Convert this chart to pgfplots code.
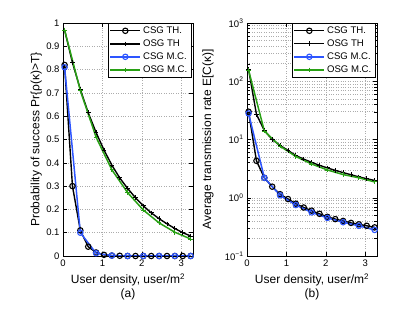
\documentclass[border=0pt]{standalone}
\usepackage{fontspec}
\setmainfont{Liberation Sans}
\usepackage{pgfplots}
\pgfplotsset{compat=1.18}
\definecolor{mblue}{RGB}{45,85,255}
\definecolor{mgreen}{RGB}{40,160,20}
\pgfplotsset{
  mstyle/.style={
    scale only axis, width=130pt, height=233pt,
    xmin=0, xmax=3.3, xtick={0,1,2,3},
    tick align=inside, tick style={black, thin},
    axis line style={black, thin},
    major grid style={dotted, gray!65, line width=0.45pt},
    minor grid style={dotted, gray!65, line width=0.45pt},
    /pgf/number format/assume math mode=true,
    tick label style={font=\fontsize{9.5}{10}\selectfont},
    label style={font=\fontsize{12}{14}\selectfont},
    xlabel style={align=center, at={(axis description cs:0.5,0)}, anchor=north, yshift=-14pt},
    legend style={at={(0.985,1)}, anchor=north east, draw=black, thin,
      font=\fontsize{9.6}{10.5}\selectfont, inner sep=1.5pt, row sep=0.8pt},
    legend cell align=left,
    legend image code/.code={\draw[mark repeat=2,mark phase=2] plot coordinates {(0pt,0pt)(15pt,0pt)(30pt,0pt)};},
  },
  csgth/.style={black, line width=1.4pt, mark=o, mark size=2.7pt, mark options={solid, line width=1.1pt}},
  osgth/.style={black, line width=1.4pt, mark=+, mark size=2.3pt, mark options={solid, line width=0.9pt}},
  csgmc/.style={mblue, line width=1.5pt, mark=o, mark size=2.7pt, mark options={solid, line width=1.1pt}},
  osgmc/.style={mgreen, line width=1.5pt, mark=+, mark size=2.3pt, mark options={solid, line width=0.9pt}},
}
\begin{document}
\begin{tikzpicture}
\useasboundingbox (0,0) rectangle (415pt,313pt);
\begin{axis}[mstyle, at={(63pt,57pt)}, anchor=south west,
  ymin=0, ymax=1, ytick={0,0.1,0.2,0.3,0.4,0.5,0.6,0.7,0.8,0.9,1},
  grid=major,
  xlabel={User density, user/m\textsuperscript{2}\\(a)},
  ylabel={Probability of success Pr\{ρ(κ)>T\}},
  ylabel style={at={(axis description cs:-0.205,0.5)}, anchor=center},
]
\addplot[csgth] coordinates {(0.04,0.82)(0.24,0.30)(0.44,0.11)(0.64,0.04)(0.84,0.015)(1.04,0.005)(1.24,0.002)(1.44,0.001)(1.64,0)(1.84,0)(2.04,0)(2.24,0)(2.44,0)(2.64,0)(2.84,0)(3.04,0)(3.24,0)};
\addplot[osgth] coordinates {(0.04,0.97)(0.24,0.83)(0.44,0.715)(0.64,0.615)(0.84,0.53)(1.04,0.455)(1.24,0.39)(1.44,0.335)(1.64,0.29)(1.84,0.25)(2.04,0.215)(2.24,0.185)(2.44,0.16)(2.64,0.138)(2.84,0.118)(3.04,0.10)(3.24,0.086)};
\addplot[csgmc] coordinates {(0.04,0.81)(0.44,0.10)(0.84,0.012)(1.24,0.002)(1.64,0)(2.04,0)(2.44,0)(2.84,0)(3.24,0)};
\addplot[osgmc] coordinates {(0.04,0.97)(0.44,0.71)(0.84,0.51)(1.24,0.37)(1.64,0.272)(2.04,0.197)(2.44,0.142)(2.84,0.102)(3.24,0.073)};
\legend{CSG TH., OSG TH, CSG M.C., OSG M.C.}
\end{axis}
\begin{axis}[mstyle, at={(247pt,57pt)}, anchor=south west,
  ymode=log, ymin=0.1, ymax=1000,
  ytick={0.1,1,10,100,1000},
  yticklabels={10\textsuperscript{−1},10\textsuperscript{0},10\textsuperscript{1},10\textsuperscript{2},10\textsuperscript{3}},
  xmajorgrids, ymajorgrids, yminorgrids,
  xlabel={User density, user/m\textsuperscript{2}\\(b)},
  ylabel={Average transmission rate E[C(κ)]},
  ylabel style={at={(axis description cs:-0.3,0.5)}, anchor=center},
]
\addplot[csgth] coordinates {(0.04,30)(0.24,4.3)(0.44,2.2)(0.64,1.55)(0.84,1.15)(1.04,0.95)(1.24,0.79)(1.44,0.68)(1.64,0.6)(1.84,0.53)(2.04,0.47)(2.24,0.43)(2.44,0.40)(2.64,0.37)(2.84,0.35)(3.04,0.33)(3.24,0.31)};
\addplot[osgth] coordinates {(0.04,160)(0.24,27)(0.44,14.3)(0.64,10)(0.84,7.9)(1.04,6.5)(1.24,5.3)(1.44,4.6)(1.64,4.05)(1.84,3.6)(2.04,3.25)(2.24,2.95)(2.44,2.7)(2.64,2.48)(2.84,2.28)(3.04,2.12)(3.24,1.98)};
\addplot[csgmc] coordinates {(0.04,28)(0.44,2.2)(0.84,1.1)(1.24,0.75)(1.64,0.56)(2.04,0.45)(2.44,0.38)(2.84,0.33)(3.24,0.28)};
\addplot[osgmc] coordinates {(0.04,155)(0.44,14)(0.84,7.7)(1.24,5.1)(1.64,3.8)(2.04,3.0)(2.44,2.5)(2.84,2.2)(3.24,1.87)};
\legend{CSG TH., OSG TH, CSG M.C., OSG M.C.}
\end{axis}
\end{tikzpicture}
\end{document}
